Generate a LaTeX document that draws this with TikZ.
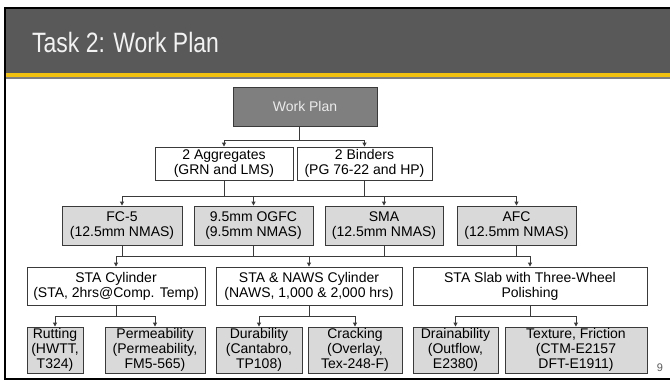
\documentclass[tikz,border=0pt]{standalone}
\usepackage{fontspec}
\setmainfont{Liberation Sans}
\usetikzlibrary{arrows.meta}
\definecolor{hdr}{HTML}{595959}
\definecolor{ylw}{HTML}{F2C10F}
\definecolor{hgr}{HTML}{7F7F7F}
\definecolor{lgr}{HTML}{D9D9D9}
\definecolor{dgr}{HTML}{7F7F7F}
\definecolor{ln}{HTML}{3A3A3A}
\tikzset{
  box/.style={draw=ln, line width=0.9pt, inner sep=0pt, align=center, font=\fontsize{14}{15}\selectfont, text=black},
  wbox/.style={box, fill=white},
  gbox/.style={box, fill=lgr},
  conn/.style={draw=ln, line width=0.9pt},
  arr/.style={conn, -{Triangle[length=4pt,width=4pt]}},
}
\begin{document}
\begin{tikzpicture}[x=1pt,y=-1pt]
\useasboundingbox (0,0) rectangle (670,381);
\fill[white] (0,0) rectangle (670,381);
% header
\fill[hdr] (5,8) rectangle (670,73);
\fill[ylw] (5,73) rectangle (670,76.5);
\fill[hgr] (5,76.5) rectangle (670,79);
\draw[black, line width=2pt] (670,8) -- (5,8) -- (5,379) -- (670,379);
\node[anchor=base west, inner sep=0pt, text=white!95!black, font=\fontsize{28}{30}\selectfont] (title) at (32,52) {\scalebox{0.82}[1]{Task 2: Work Plan}};
\node[anchor=base, inner sep=0pt, text=hdr, font=\fontsize{11}{12}\selectfont] (pg) at (660,371) {9};
% level 1
\node[box, fill=dgr, text=white!92!black, minimum width=144pt, minimum height=39pt] (wp) at (305,106.5) {Work Plan};
% level 2
\node[wbox, minimum width=138pt, minimum height=33pt] (agg) at (224,163.5) {2 Aggregates\\(GRN and LMS)};
\node[wbox, minimum width=135pt, minimum height=33pt] (bin) at (364.5,163.5) {2 Binders\\(PG 76-22 and HP)};
% level 3
\node[gbox, minimum width=120pt, minimum height=39pt] (fc5) at (122,225.5) {FC-5\\(12.5mm NMAS)};
\node[gbox, minimum width=119pt, minimum height=39pt] (ogfc) at (253.5,225.5) {9.5mm OGFC\\(9.5mm NMAS)};
\node[gbox, minimum width=118pt, minimum height=39pt] (sma) at (384,225.5) {SMA\\(12.5mm NMAS)};
\node[gbox, minimum width=119pt, minimum height=39pt] (afc) at (516.5,225.5) {AFC\\(12.5mm NMAS)};
% level 4
\node[wbox, minimum width=178pt, minimum height=38pt] (stacyl) at (116,286) {STA Cylinder\\(STA, 2hrs@Comp. Temp)};
\node[wbox, minimum width=186pt, minimum height=38pt] (naws) at (309,286) {STA \& NAWS Cylinder\\(NAWS, 1,000 \& 2,000 hrs)};
\node[wbox, minimum width=234pt, minimum height=38pt] (slab) at (530,286) {STA Slab with Three-Wheel\\Polishing};
% level 5
\node[gbox, minimum width=56pt, minimum height=46pt] (rut) at (55,350) {Rutting\\(HWTT,\\T324)};
\node[gbox, minimum width=100pt, minimum height=46pt] (perm) at (155,350) {Permeability\\(Permeability,\\FM5-565)};
\node[gbox, minimum width=86pt, minimum height=46pt] (dur) at (259,350) {Durability\\(Cantabro,\\TP108)};
\node[gbox, minimum width=94pt, minimum height=46pt] (crk) at (355,350) {Cracking\\(Overlay,\\Tex-248-F)};
\node[gbox, minimum width=85pt, minimum height=46pt] (drn) at (455.5,350) {Drainability\\(Outflow,\\E2380)};
\node[gbox, minimum width=142pt, minimum height=46pt] (tex) at (576,350) {Texture, Friction\\(CTM-E2157\\DFT-E1911)};
% connectors level 1 -> 2
\coordinate (j1) at (299,140);
\draw[conn] (wp.south -| j1) -- (j1);
\draw[arr] (j1) -| (agg.north);
\draw[arr] (j1) -| (bin.north);
% level 2 -> 3
\coordinate (b2) at (0,196);
\draw[conn] (agg.south) -- (agg.south |- b2);
\draw[conn] (bin.south) -- (bin.south |- b2);
\draw[conn] (fc5.north |- b2) -- (afc.north |- b2);
\foreach \n in {fc5,ogfc,sma,afc} { \draw[arr] (\n.north |- b2) -- (\n.north); }
% level 3 -> 4
\coordinate (b3) at (0,256);
\foreach \n in {fc5,ogfc,sma,afc} { \draw[conn] (\n.south) -- (\n.south |- b3); }
\draw[conn] (stacyl.north |- b3) -- (slab.north |- b3);
\foreach \n in {stacyl,naws,slab} { \draw[arr] (\n.north |- b3) -- (\n.north); }
% level 4 -> 5
\coordinate (b4) at (0,316);
\draw[conn] (stacyl.south) -- (stacyl.south |- b4);
\draw[conn] (rut.north |- b4) -- (perm.north |- b4);
\draw[arr] (rut.north |- b4) -- (rut.north);
\draw[arr] (perm.north |- b4) -- (perm.north);
\draw[conn] (naws.south) -- (naws.south |- b4);
\draw[conn] (dur.north |- b4) -- (crk.north |- b4);
\draw[arr] (dur.north |- b4) -- (dur.north);
\draw[arr] (crk.north |- b4) -- (crk.north);
\draw[conn] (slab.south) -- (slab.south |- b4);
\draw[conn] (drn.north |- b4) -- (tex.north |- b4);
\draw[arr] (drn.north |- b4) -- (drn.north);
\draw[arr] (tex.north |- b4) -- (tex.north);
\end{tikzpicture}
\end{document}
